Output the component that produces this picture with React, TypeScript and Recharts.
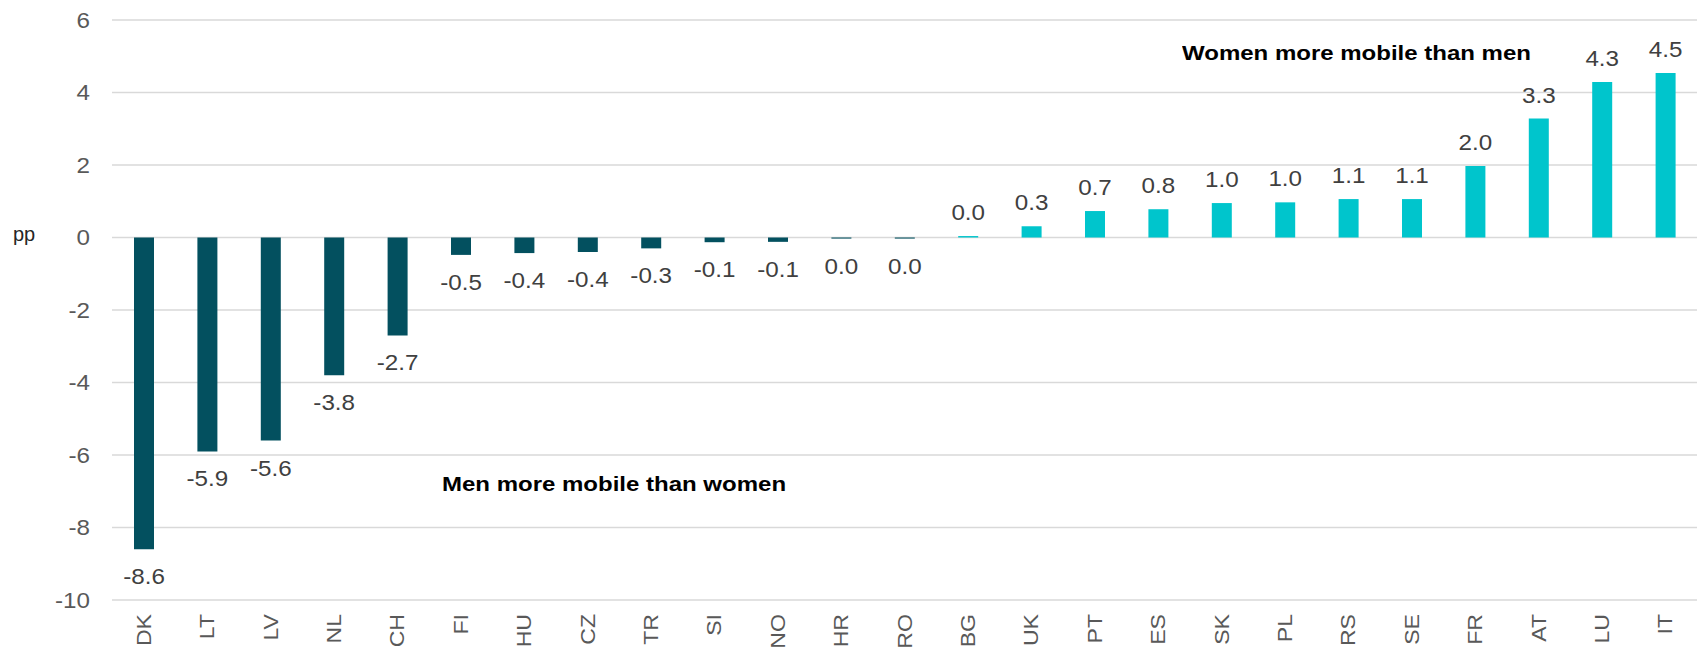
import React from 'react';
import { BarChart, Bar, XAxis, YAxis, CartesianGrid, Cell, LabelList } from 'recharts';

const countries = ['DK', 'LT', 'LV', 'NL', 'CH', 'FI', 'HU', 'CZ', 'TR', 'SI', 'NO', 'HR', 'RO', 'BG', 'UK', 'PT', 'ES', 'SK', 'PL', 'RS', 'SE', 'FR', 'AT', 'LU', 'IT'];
const gaps = [-8.6, -5.9, -5.6, -3.8, -2.7, -0.48, -0.43, -0.4, -0.3, -0.13, -0.12, -0.03, -0.03, 0.04, 0.31, 0.73, 0.78, 0.95, 0.97, 1.06, 1.06, 1.97, 3.28, 4.29, 4.54];
const gapLabels = ['-8.6', '-5.9', '-5.6', '-3.8', '-2.7', '-0.5', '-0.4', '-0.4', '-0.3', '-0.1', '-0.1', '0.0', '0.0', '0.0', '0.3', '0.7', '0.8', '1.0', '1.0', '1.1', '1.1', '2.0', '3.3', '4.3', '4.5'];
const yTicks = [-10, -8, -6, -4, -2, 0, 2, 4, 6];

const FONT = '"Liberation Sans", Arial, sans-serif';
const DARK = '#03505F';
const CYAN = '#00C5CC';
// the source text is a little wider than Arial at the same height
const STRETCH = 1.1;

const chartData = countries.map((c, i) => ({ name: c, gap: gaps[i], label: gapLabels[i] }));

const ValueLabel = (props: any) => {
    const { x, y, width, height, index } = props;
    const top = Math.min(y, y + height);
    const bottom = Math.max(y, y + height);
    const ty = gaps[index] >= 0 ? top - 16 : bottom + 35;
    return (
        <text
            transform={`translate(${x + width / 2} ${ty}) scale(${STRETCH} 1)`}
            textAnchor="middle"
            fontSize={22}
            fill="#404040"
            fontFamily={FONT}
        >
            {gapLabels[index]}
        </text>
    );
};

const YTick = (props: any) => (
    <text
        transform={`translate(90 ${props.y}) scale(${STRETCH} 1)`}
        dy="0.36em"
        textAnchor="end"
        fontSize={22}
        fill="#595959"
        fontFamily={FONT}
    >
        {props.payload.value}
    </text>
);

const XTick = (props: any) => (
    <text
        transform={`translate(${props.x} 614) rotate(-90) scale(${STRETCH} 1)`}
        textAnchor="end"
        dominantBaseline="central"
        fontSize={21}
        fill="#595959"
        fontFamily={FONT}
    >
        {props.payload.value}
    </text>
);

const note: React.CSSProperties = {
    position: 'absolute',
    fontFamily: FONT,
    fontSize: 20,
    lineHeight: '20px',
    fontWeight: 'bold',
    color: '#000',
    whiteSpace: 'nowrap',
    transform: 'scaleX(1.2)',
    transformOrigin: 'left center',
};

export default function App() {
    return (
        <div style={{ position: 'absolute', left: 0, top: 0, width: 1697, height: 650, background: '#fff', fontFamily: FONT }}>
            <BarChart width={1697} height={650} data={chartData} margin={{ top: 20, right: 0, bottom: 0, left: 0 }}>
                <CartesianGrid horizontal vertical={false} stroke="#d9d9d9" strokeWidth={1.5} />
                <XAxis dataKey="name" interval={0} height={50} axisLine={false} tickLine={false} tick={<XTick />} />
                <YAxis domain={[-10, 6]} ticks={yTicks} width={112} axisLine={false} tickLine={false} tick={<YTick />} />
                <Bar dataKey="gap" barSize={20} isAnimationActive={false}>
                    {chartData.map((d, i) => (
                        <Cell key={`cell-${i}`} fill={d.gap < 0 ? DARK : CYAN} />
                    ))}
                    <LabelList dataKey="label" content={<ValueLabel />} />
                </Bar>
            </BarChart>
            <div style={{ ...note, left: 13, top: 224, fontWeight: 'normal', color: '#262626', transform: 'none' }}>pp</div>
            <div style={{ ...note, left: 1182, top: 43 }}>Women more mobile than men</div>
            <div style={{ ...note, left: 442, top: 474 }}>Men more mobile than women</div>
        </div>
    );
}
